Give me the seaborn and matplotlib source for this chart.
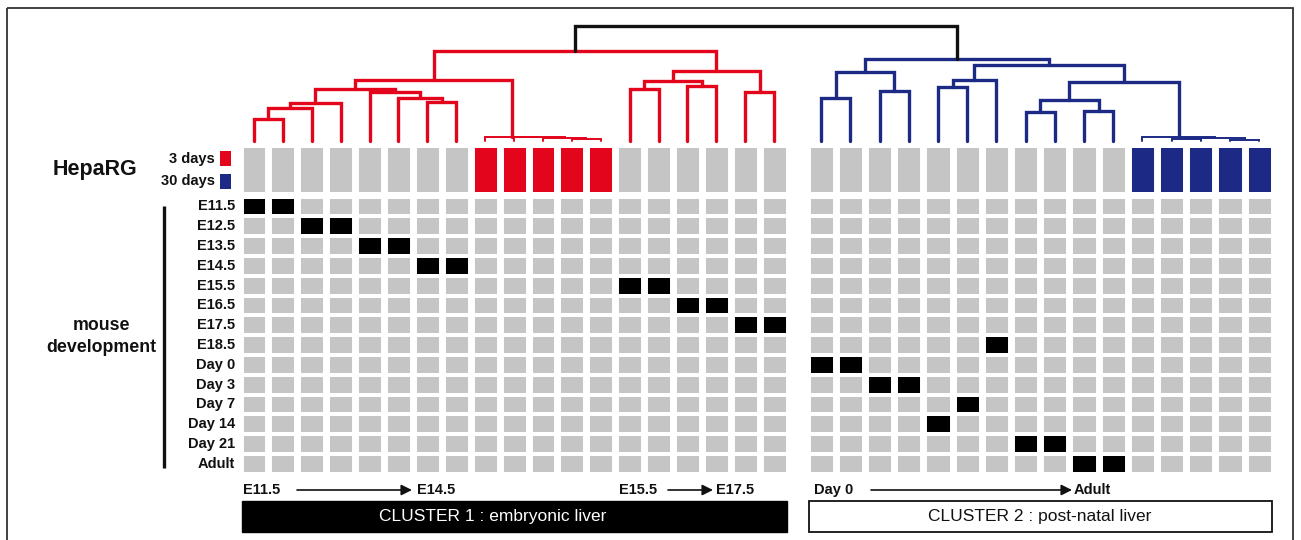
"""
Hierarchical clustering of HepaRG samples vs mouse liver development stages.
Dendrogram on top, sample/stage membership grid below.
"""

import numpy as np
import pandas as pd
import matplotlib
matplotlib.use("Agg")
import matplotlib.pyplot as plt
from matplotlib.colors import ListedColormap
from matplotlib.patches import Rectangle
import seaborn as sns

# ── Data ───────────────────────────────────────────────────────────────────
STAGES = ["E11.5", "E12.5", "E13.5", "E14.5", "E15.5", "E16.5", "E17.5",
          "E18.5", "Day 0", "Day 3", "Day 7", "Day 14", "Day 21", "Adult"]

# sample order along the x axis (leaf order of the dendrogram)
CLUSTER1_SAMPLES = ["E11.5", "E11.5", "E12.5", "E12.5", "E13.5", "E13.5",
                    "E14.5", "E14.5",
                    "3 days", "3 days", "3 days", "3 days", "3 days",
                    "E15.5", "E15.5", "E16.5", "E16.5", "E17.5", "E17.5"]
CLUSTER2_SAMPLES = ["Day 0", "Day 0", "Day 3", "Day 3", "Day 14", "Day 7",
                    "E18.5", "Day 21", "Day 21", "Adult", "Adult",
                    "30 days", "30 days", "30 days", "30 days", "30 days"]

HEPARG_LABELS = ["3 days", "30 days"]

# dendrogram merges (child_a, child_b, height); leaves 0-34, merge k -> node 35+k
MERGES = [
    (0, 1, 22), (35, 2, 33), (36, 3, 38), (6, 7, 39), (5, 38, 43),
    (4, 39, 49), (37, 40, 52), (11, 12, 1.7), (10, 42, 2.7), (9, 43, 3.7),
    (8, 44, 4.5), (41, 45, 61), (13, 14, 52), (15, 16, 55), (47, 48, 60),
    (17, 18, 49), (49, 50, 70), (46, 51, 90.5),
    (19, 20, 43), (21, 22, 50), (53, 54, 69), (23, 24, 54), (56, 25, 61),
    (26, 27, 29), (28, 29, 30), (58, 59, 41), (31, 32, 2), (33, 34, 1.5),
    (61, 62, 3), (30, 63, 4.5), (60, 64, 59), (57, 65, 76), (55, 66, 82),
    (52, 67, 115),
]

CLUSTER_TITLES = ["CLUSTER 1 : embryonic liver", "CLUSTER 2 : post-natal liver"]

# ── Style / layout (pixels, top-left origin) ──────────────────────────────
W, H = 1301, 540
GRAY, BLACK, RED, BLUE = "#c5c5c5", "#000000", "#e2051b", "#1c2a86"
cmap = ListedColormap([GRAY, BLACK, RED, BLUE])

L_X0, L_PITCH = 239.5, 28.9
R_X0, R_PITCH = 806.5, 29.2
HEP_Y0, HEP_Y1 = 145.5, 193.5
DEV_Y0, ROW_PITCH = 196.5, 19.8
DEN_Y0, DEN_Y1 = 20, 141

sns.set_style("white")
plt.rcParams["font.family"] = ["Liberation Sans", "DejaVu Sans"]

fig = plt.figure(figsize=(W / 100, H / 100), dpi=100)


def px_axes(x0, y0, x1, y1):
    return fig.add_axes([x0 / W, 1 - y1 / H, (x1 - x0) / W, (y1 - y0) / H])


# overlay for text, frame and arrows
ax_txt = px_axes(0, 0, W, H)
ax_txt.set_xlim(0, W)
ax_txt.set_ylim(H, 0)
ax_txt.axis("off")
ax_txt.add_patch(Rectangle((7, 8), 1286, 545, fill=False, ec="#333333", lw=1.3))


def build_tables(samples, heparg_value):
    dev = pd.DataFrame(0, index=STAGES, columns=range(len(samples)))
    for i, s in enumerate(samples):
        if s in STAGES:
            dev.loc[s, i] = 1
    hep = pd.DataFrame([[heparg_value if s in HEPARG_LABELS else 0 for s in samples]])
    return dev, hep


blocks = [
    (CLUSTER1_SAMPLES, 2, L_X0, L_PITCH),
    (CLUSTER2_SAMPLES, 3, R_X0, R_PITCH),
]
for k, (samples, hval, x0, pitch) in enumerate(blocks):
    dev, hep = build_tables(samples, hval)
    x1 = x0 + pitch * len(samples)
    ax_h = px_axes(x0, HEP_Y0, x1, HEP_Y1)
    ax_d = px_axes(x0, DEV_Y0, x1, DEV_Y0 + ROW_PITCH * len(STAGES))
    for ax, df in [(ax_h, hep), (ax_d, dev)]:
        sns.heatmap(df, ax=ax, cmap=cmap, vmin=-0.5, vmax=3.5, cbar=False,
                    linewidths=1.7, linecolor="white",
                    xticklabels=False, yticklabels=(k == 0 and df is dev))
        ax.vlines(np.arange(df.shape[1] + 1), 0, df.shape[0],
                  colors="white", linewidth=5.0)
    if k == 0:
        ax_d.tick_params(axis="y", length=0, pad=3)
        for lbl in ax_d.get_yticklabels():
            lbl.set_rotation(0)
            lbl.set_fontsize(10.5)
            lbl.set_fontweight("bold")
            lbl.set_color("#111111")

# ── Dendrogram ────────────────────────────────────────────────────────────
n_left, n_right = len(CLUSTER1_SAMPLES), len(CLUSTER2_SAMPLES)
n_leaves = n_left + n_right
xpos = [L_X0 + L_PITCH * (i + 0.5) for i in range(n_left)] + \
       [R_X0 + R_PITCH * (j + 0.5) for j in range(n_right)]
hpos = [0.0] * n_leaves
members = [{i} for i in range(n_leaves)]

ax_den = px_axes(0, DEN_Y0, W, DEN_Y1)
ax_den.set_xlim(0, W)
ax_den.set_ylim(0, DEN_Y1 - DEN_Y0)
ax_den.axis("off")

for k, (a, b, h) in enumerate(MERGES):
    leaves = members[a] | members[b]
    if k == len(MERGES) - 1:
        color = "#111111"
    elif max(leaves) < n_left:
        color = RED
    else:
        color = BLUE
    lw = 1.4 if h < 6 else 2.4
    ax_den.plot([xpos[a], xpos[a], xpos[b], xpos[b]], [hpos[a], h, h, hpos[b]],
                color=color, lw=lw, solid_joinstyle="miter", clip_on=False)
    xpos.append((xpos[a] + xpos[b]) / 2)
    hpos.append(h)
    members.append(leaves)

# ── Left side labels ──────────────────────────────────────────────────────
ax_txt.text(53, 170, "HepaRG", fontsize=15.5, fontweight="bold",
            ha="left", va="center", color="#111111")
ax_txt.text(215, 159, "3 days", fontsize=10.5, fontweight="bold",
            ha="right", va="center", color="#111111")
ax_txt.text(215, 181, "30 days", fontsize=10.5, fontweight="bold",
            ha="right", va="center", color="#111111")
ax_txt.add_patch(Rectangle((220, 151), 11, 15, color=RED, lw=0))
ax_txt.add_patch(Rectangle((220, 174), 11, 15, color=BLUE, lw=0))

ax_txt.plot([164, 164], [206, 468], color="#111111", lw=2.4,
            solid_capstyle="butt")
ax_txt.text(101, 325, "mouse", fontsize=12.8, fontweight="bold",
            ha="center", va="center", color="#111111")
ax_txt.text(101, 348, "development", fontsize=12.8, fontweight="bold",
            ha="center", va="center", color="#111111")

# ── Bottom: timeline arrows and cluster boxes ─────────────────────────────
timeline = [("E11.5", 243, 297, 412, "E14.5", 417),
            ("E15.5", 619, 668, 713, "E17.5", 716),
            ("Day 0", 814, 871, 1072, "Adult", 1074)]
for start, xs, a0, a1, end, xe in timeline:
    ax_txt.text(xs, 490, start, fontsize=10.5, fontweight="bold",
                ha="left", va="center", color="#111111")
    ax_txt.text(xe, 490, end, fontsize=10.5, fontweight="bold",
                ha="left", va="center", color="#111111")
    ax_txt.annotate("", xy=(a1, 490), xytext=(a0, 490),
                    arrowprops=dict(arrowstyle="-|>", color="#111111", lw=1.2,
                                    mutation_scale=16, shrinkA=0, shrinkB=0))

ax_txt.add_patch(Rectangle((242, 501), 545, 31, fc="black", ec="black", lw=1))
ax_txt.add_patch(Rectangle((809, 501), 463, 31, fc="white", ec="#111111", lw=1.3))
ax_txt.text(493, 517, CLUSTER_TITLES[0], fontsize=12.5,
            ha="center", va="center", color="white")
ax_txt.text(1040, 517, CLUSTER_TITLES[1], fontsize=12.5,
            ha="center", va="center", color="#111111")

fig.savefig("out.png", dpi=100)
